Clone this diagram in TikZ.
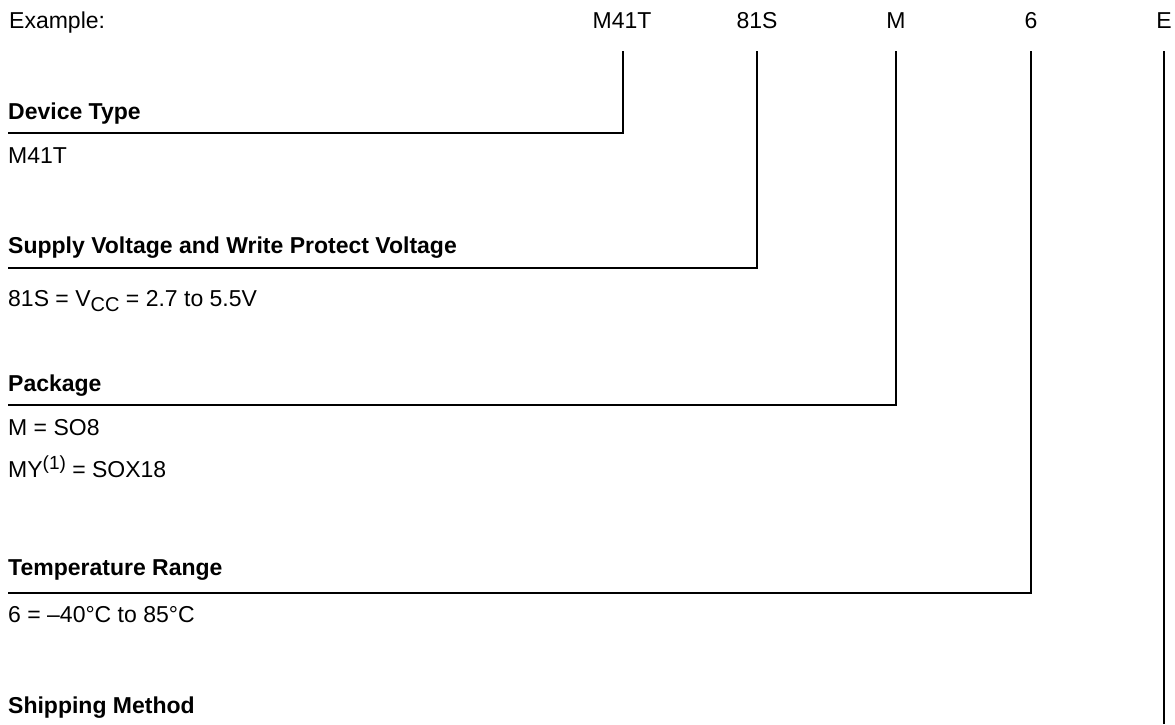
\documentclass[tikz,border=0pt]{standalone}
\usepackage{fontspec}
\setmainfont{Liberation Sans}
\usetikzlibrary{positioning}
\tikzset{
    code/.style = {anchor=base, inner sep=0pt, font=\fontsize{23}{27}\selectfont},
    head/.style = {anchor=base west, inner sep=0pt, font=\fontsize{23}{27}\selectfont\bfseries},
    item/.style = {anchor=base west, inner sep=0pt, font=\fontsize{23}{27}\selectfont},
    leg/.style = {-, line width=2.2pt, black},
}
\newcommand{\lowsub}[1]{\raisebox{-5pt}{\fontsize{20}{20}\selectfont #1}}
\newcommand{\highsup}[1]{\raisebox{8pt}{\fontsize{19}{19}\selectfont #1}}

\begin{document}
\begin{tikzpicture}[x=1pt,y=-1pt]
\useasboundingbox (0,0) rectangle (1175,724);

\node[item] at (9,28) (ex) {Example:};
\node[code] at (622,28) (m41t) {M41T};
\node[code] at (757,28) (s81) {81S};
\node[code] at (896,28) (pkg) {M};
\node[code] at (1031,28) (tmp) {6};
\node[code] at (1164,28) (ship) {E};

\node[head] at (8,119) (devhead) {Device Type};
\node[item] at (8,163) (devval) {M41T};
\node[head] at (8,253) (suphead) {Supply Voltage and Write Protect Voltage};
\node[item] at (8,306) (supval) {81S = V\lowsub{CC} = 2.7 to 5.5V};
\node[head] at (8,391) (pkghead) {Package};
\node[item] at (8,435) (pkgval) {M = SO8};
\node[item] at (8,477) (pkgvalb) {MY\highsup{(1)} = SOX18};
\node[head] at (8,575) (tmphead) {Temperature Range};
\node[item] at (8,622) (tmpval) {6 = \textendash40\textdegree C to 85\textdegree C};
\node[head] at (8,713) (shiphead) {Shipping Method};

\coordinate (t1) at (623,51);  \coordinate (b1) at (8,133);
\coordinate (t2) at (757,51);  \coordinate (b2) at (8,268);
\coordinate (t3) at (896,51);  \coordinate (b3) at (8,405);
\coordinate (t4) at (1031,51); \coordinate (b4) at (8,593);
\coordinate (t5) at (1164,51); \coordinate (b5) at (1164,724);

\draw[leg] (t1) |- (b1);
\draw[leg] (t2) |- (b2);
\draw[leg] (t3) |- (b3);
\draw[leg] (t4) |- (b4);
\draw[leg] (t5) -- (b5);

\end{tikzpicture}
\end{document}
